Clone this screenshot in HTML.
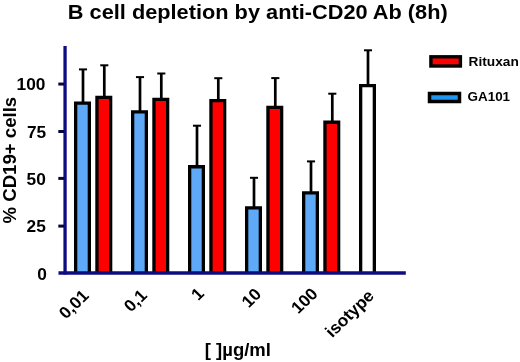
<!DOCTYPE html>
<html><head><meta charset="utf-8"><style>
html,body{margin:0;padding:0;background:#fff;}
body{width:520px;height:362px;overflow:hidden;}
svg{display:block;}
text{font-family:"Liberation Sans",Arial,sans-serif;font-weight:bold;fill:#000;}
</style></head><body>
<svg width="520" height="362" viewBox="0 0 520 362">
<rect width="520" height="362" fill="#fff"/>
<line x1="83.00" y1="103.40" x2="83.00" y2="69.40" stroke="#000" stroke-width="2.7"/><line x1="78.95" y1="69.40" x2="87.05" y2="69.40" stroke="#000" stroke-width="2.0"/><rect x="75.65" y="103.05" width="13.70" height="169.95" fill="#5eaaf8"/><path d="M75.65 273.00V103.05H89.35V273.00" fill="none" stroke="#000" stroke-width="3.3"/><line x1="104.30" y1="97.80" x2="104.30" y2="65.30" stroke="#000" stroke-width="2.7"/><line x1="100.25" y1="65.30" x2="108.35" y2="65.30" stroke="#000" stroke-width="2.0"/><rect x="96.95" y="97.45" width="13.70" height="175.55" fill="#ff0000"/><path d="M96.95 273.00V97.45H110.65V273.00" fill="none" stroke="#000" stroke-width="3.3"/><line x1="140.00" y1="112.30" x2="140.00" y2="77.10" stroke="#000" stroke-width="2.7"/><line x1="135.95" y1="77.10" x2="144.05" y2="77.10" stroke="#000" stroke-width="2.0"/><rect x="132.65" y="111.95" width="13.70" height="161.05" fill="#5eaaf8"/><path d="M132.65 273.00V111.95H146.35V273.00" fill="none" stroke="#000" stroke-width="3.3"/><line x1="161.30" y1="99.80" x2="161.30" y2="73.50" stroke="#000" stroke-width="2.7"/><line x1="157.25" y1="73.50" x2="165.35" y2="73.50" stroke="#000" stroke-width="2.0"/><rect x="153.95" y="99.45" width="13.70" height="173.55" fill="#ff0000"/><path d="M153.95 273.00V99.45H167.65V273.00" fill="none" stroke="#000" stroke-width="3.3"/><line x1="197.00" y1="167.10" x2="197.00" y2="125.70" stroke="#000" stroke-width="2.7"/><line x1="192.95" y1="125.70" x2="201.05" y2="125.70" stroke="#000" stroke-width="2.0"/><rect x="189.65" y="166.75" width="13.70" height="106.25" fill="#5eaaf8"/><path d="M189.65 273.00V166.75H203.35V273.00" fill="none" stroke="#000" stroke-width="3.3"/><line x1="218.30" y1="101.00" x2="218.30" y2="78.20" stroke="#000" stroke-width="2.7"/><line x1="214.25" y1="78.20" x2="222.35" y2="78.20" stroke="#000" stroke-width="2.0"/><rect x="210.95" y="100.65" width="13.70" height="172.35" fill="#ff0000"/><path d="M210.95 273.00V100.65H224.65V273.00" fill="none" stroke="#000" stroke-width="3.3"/><line x1="254.00" y1="208.20" x2="254.00" y2="177.80" stroke="#000" stroke-width="2.7"/><line x1="249.95" y1="177.80" x2="258.05" y2="177.80" stroke="#000" stroke-width="2.0"/><rect x="246.65" y="207.85" width="13.70" height="65.15" fill="#5eaaf8"/><path d="M246.65 273.00V207.85H260.35V273.00" fill="none" stroke="#000" stroke-width="3.3"/><line x1="275.30" y1="107.80" x2="275.30" y2="78.10" stroke="#000" stroke-width="2.7"/><line x1="271.25" y1="78.10" x2="279.35" y2="78.10" stroke="#000" stroke-width="2.0"/><rect x="267.95" y="107.45" width="13.70" height="165.55" fill="#ff0000"/><path d="M267.95 273.00V107.45H281.65V273.00" fill="none" stroke="#000" stroke-width="3.3"/><line x1="311.00" y1="193.30" x2="311.00" y2="161.40" stroke="#000" stroke-width="2.7"/><line x1="306.95" y1="161.40" x2="315.05" y2="161.40" stroke="#000" stroke-width="2.0"/><rect x="303.65" y="192.95" width="13.70" height="80.05" fill="#5eaaf8"/><path d="M303.65 273.00V192.95H317.35V273.00" fill="none" stroke="#000" stroke-width="3.3"/><line x1="332.30" y1="122.60" x2="332.30" y2="93.70" stroke="#000" stroke-width="2.7"/><line x1="328.25" y1="93.70" x2="336.35" y2="93.70" stroke="#000" stroke-width="2.0"/><rect x="324.95" y="122.25" width="13.70" height="150.75" fill="#ff0000"/><path d="M324.95 273.00V122.25H338.65V273.00" fill="none" stroke="#000" stroke-width="3.3"/><line x1="368.00" y1="86.00" x2="368.00" y2="50.30" stroke="#000" stroke-width="2.7"/><line x1="363.95" y1="50.30" x2="372.05" y2="50.30" stroke="#000" stroke-width="2.0"/><rect x="360.65" y="85.65" width="13.70" height="187.35" fill="#fff"/><path d="M360.65 273.00V85.65H374.35V273.00" fill="none" stroke="#000" stroke-width="3.3"/>
<line x1="65.05" y1="46" x2="65.05" y2="274.5" stroke="#0e0c80" stroke-width="3.3"/><line x1="58.5" y1="273" x2="405.8" y2="273" stroke="#0e0c80" stroke-width="3.4"/><line x1="58.3" y1="84.05" x2="64" y2="84.05" stroke="#08083c" stroke-width="3"/><line x1="58.3" y1="131.5" x2="64" y2="131.5" stroke="#08083c" stroke-width="3"/><line x1="58.3" y1="178.4" x2="64" y2="178.4" stroke="#08083c" stroke-width="3"/><line x1="58.3" y1="226.1" x2="64" y2="226.1" stroke="#08083c" stroke-width="3"/>
<rect x="430.9" y="56.8" width="29.5" height="9.2" fill="#ff0000" stroke="#000" stroke-width="3.4"/>
<rect x="429.5" y="93.5" width="30" height="8" fill="#1e96f0" stroke="#000" stroke-width="3.5"/>
<text transform="translate(67.80,18.80) scale(1.0365,1)" text-anchor="start" font-size="21">B cell depletion by anti-CD20 Ab (8h)</text>
<text transform="translate(45.50,90.00) scale(1.0500,1)" text-anchor="end" font-size="16.5">100</text>
<text transform="translate(46.20,137.50) scale(1.0500,1)" text-anchor="end" font-size="16.5">75</text>
<text transform="translate(45.80,184.50) scale(1.0500,1)" text-anchor="end" font-size="16.5">50</text>
<text transform="translate(45.80,232.00) scale(1.0500,1)" text-anchor="end" font-size="16.5">25</text>
<text transform="translate(46.80,279.70) scale(1.0500,1)" text-anchor="end" font-size="16.5">0</text>
<text transform="translate(89.80,296.80) scale(1.0400,1) rotate(-45)" text-anchor="end" font-size="16.7">0,01</text>
<text transform="translate(148.00,296.40) scale(1.0400,1) rotate(-45)" text-anchor="end" font-size="16.7">0,1</text>
<text transform="translate(205.10,294.60) scale(1.0400,1) rotate(-45)" text-anchor="end" font-size="16.7">1</text>
<text transform="translate(262.30,295.30) scale(1.0400,1) rotate(-45)" text-anchor="end" font-size="16.7">10</text>
<text transform="translate(318.80,294.90) scale(1.0400,1) rotate(-45)" text-anchor="end" font-size="16.7">100</text>
<text transform="translate(375.20,297.00) scale(1.0400,1) rotate(-45)" text-anchor="end" font-size="16.7">isotype</text>
<text transform="translate(15.60,223.50) scale(1.0350,1) rotate(-90)" text-anchor="start" font-size="18.63">% CD19+ cells</text>
<text transform="translate(204.80,355.90)" text-anchor="start" font-size="18.5">[ ]µg/ml</text>
<text transform="translate(468.50,65.80) scale(1.0550,1)" text-anchor="start" font-size="13">Rituxan</text>
<text transform="translate(467.50,101.30) scale(1.0350,1)" text-anchor="start" font-size="13">GA101</text>
</svg>
</body></html>
